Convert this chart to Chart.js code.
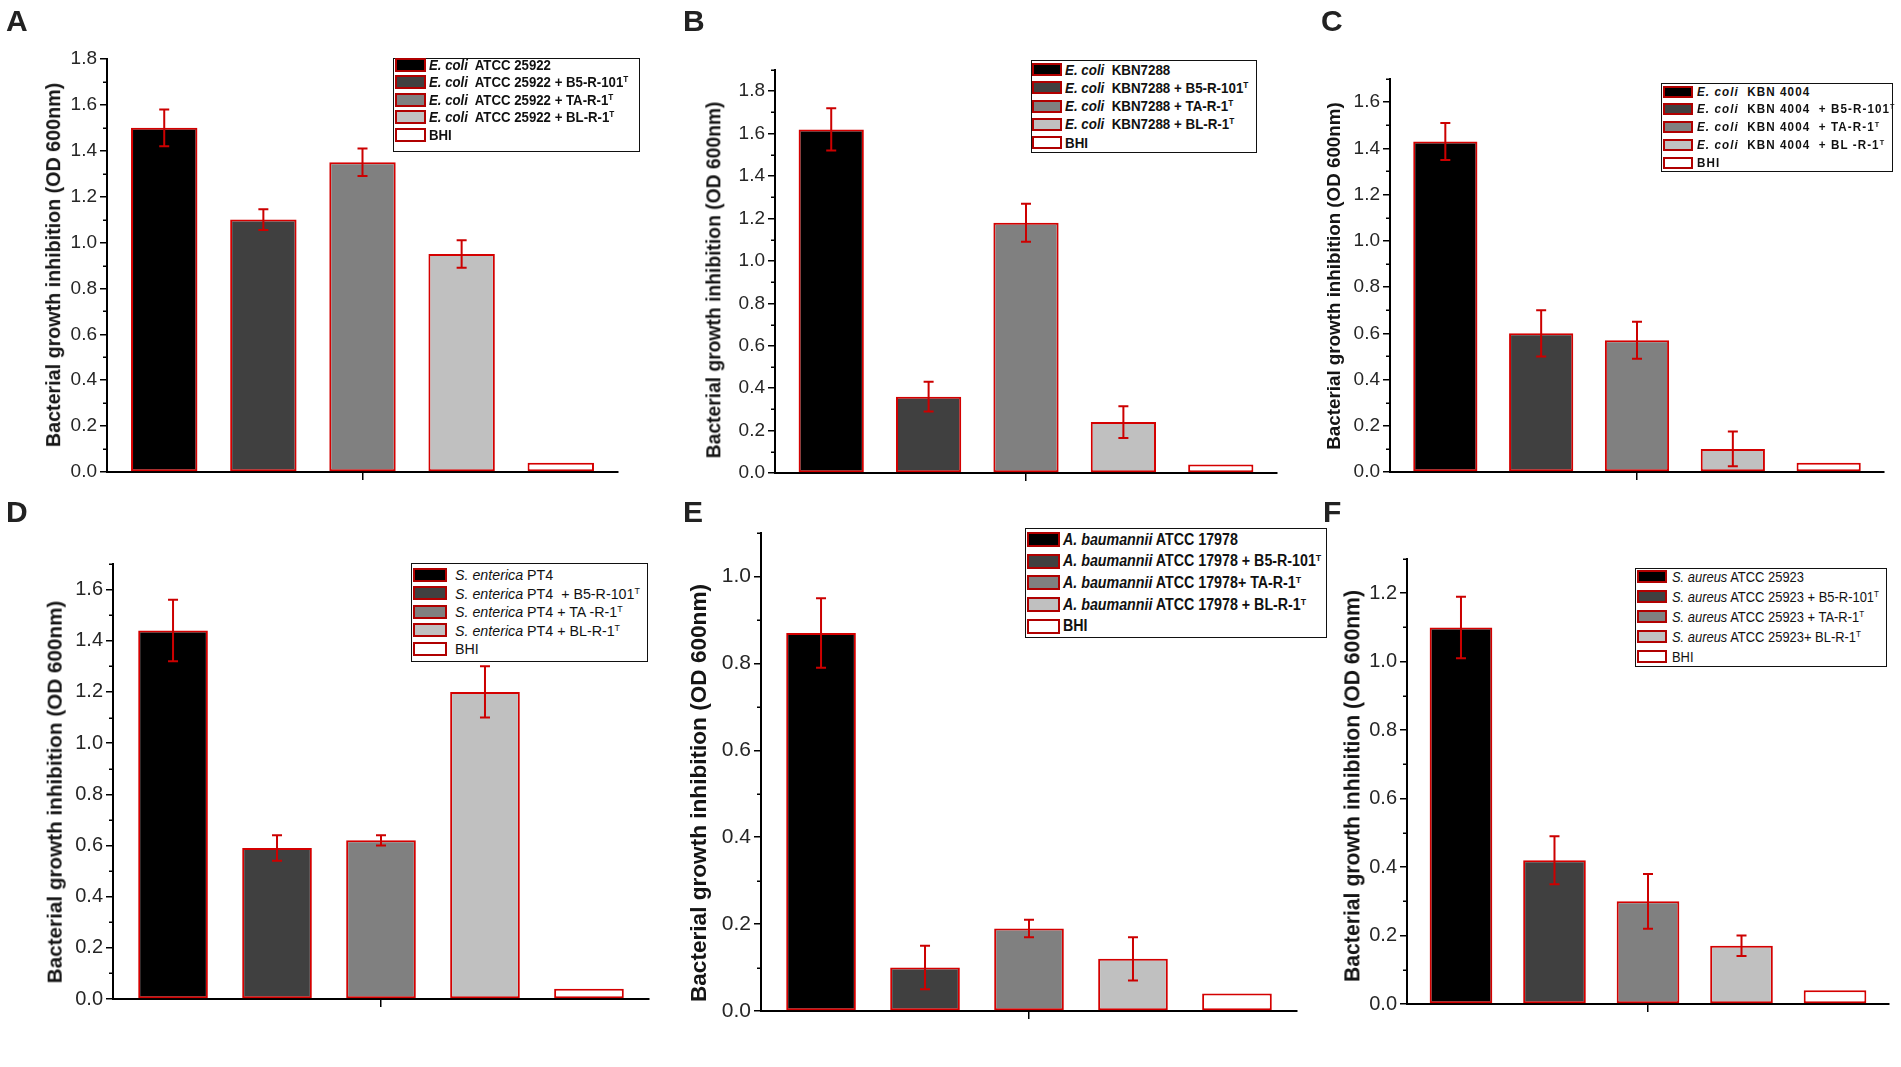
<!DOCTYPE html>
<html>
<head>
<meta charset="utf-8">
<title>Bacterial growth inhibition</title>
<script src="https://cdn.jsdelivr.net/npm/chart.js@4.4.1/dist/chart.umd.min.js"></script>
<style>
  html, body { margin: 0; padding: 0; background: #fff; }
  body { width: 1901px; height: 1067px; position: relative; overflow: hidden;
         font-family: 'Liberation Sans', Arial, sans-serif; }
  .panel { position: absolute; }
  .letter { position: absolute; font-size: 30px; font-weight: bold; line-height: 30px; color: #222; }
  .ytitle { position: absolute; white-space: nowrap; font-weight: bold; color: #151515;
            transform: translate(-50%, -50%) rotate(-90deg); line-height: 1; }
  .legend { position: absolute; border: 1.5px solid #111; box-sizing: border-box; background: #fff; }
  .legend .rows { position: absolute; left: 0; right: 0; }
  .legend .row { position: relative; display: flex; align-items: center; white-space: pre; color: #111; }
  .legend .sw { position: absolute; box-sizing: border-box; border: 2px solid #b00000; }
  .legend .txt { position: absolute; transform-origin: left center; }
  .legend sup { font-size: 0.62em; vertical-align: 0.55em; line-height: 0; }
</style>
</head>
<body>
<script>
Chart.defaults.font.family = "'Liberation Sans', Arial, sans-serif";

// ---- data ----
const barColors = ['#000000', '#404040', '#808080', '#c0c0c0', '#ffffff'];
const yTitle = 'Bacterial growth inhibition (OD 600nm)';

// _x_ = italic, ^T = superscript T
const labelsA = ['_E. coli_  ATCC 25922', '_E. coli_  ATCC 25922 + B5-R-101^T', '_E. coli_  ATCC 25922 + TA-R-1^T', '_E. coli_  ATCC 25922 + BL-R-1^T', 'BHI'];
const valuesA = [1.50, 1.10, 1.35, 0.95, 0.04];
const errorsA = [0.08, 0.045, 0.06, 0.06, 0];
const ticksA = [0, 0.2, 0.4, 0.6, 0.8, 1.0, 1.2, 1.4, 1.6, 1.8];
const yMaxA = 1.8;

const labelsB = ['_E. coli_  KBN7288', '_E. coli_  KBN7288 + B5-R-101^T', '_E. coli_  KBN7288 + TA-R-1^T', '_E. coli_  KBN7288 + BL-R-1^T', 'BHI'];
const valuesB = [1.62, 0.36, 1.18, 0.24, 0.04];
const errorsB = [0.10, 0.07, 0.09, 0.075, 0];
const ticksB = [0, 0.2, 0.4, 0.6, 0.8, 1.0, 1.2, 1.4, 1.6, 1.8];
const yMaxB = 1.9;

const labelsC = ['_E. coli_  KBN 4004', '_E. coli_  KBN 4004  + B5-R-101^T', '_E. coli_  KBN 4004  + TA-R-1^T', '_E. coli_  KBN 4004  + BL -R-1^T', 'BHI'];
const valuesC = [1.43, 0.60, 0.57, 0.10, 0.04];
const errorsC = [0.08, 0.10, 0.08, 0.075, 0];
const ticksC = [0, 0.2, 0.4, 0.6, 0.8, 1.0, 1.2, 1.4, 1.6];
const yMaxC = 1.7;

const labelsD = ['_S. enterica_ PT4', '_S. enterica_ PT4  + B5-R-101^T', '_S. enterica_ PT4 + TA -R-1^T', '_S. enterica_ PT4 + BL-R-1^T', 'BHI'];
const valuesD = [1.44, 0.59, 0.62, 1.20, 0.04];
const errorsD = [0.12, 0.05, 0.02, 0.10, 0];
const ticksD = [0, 0.2, 0.4, 0.6, 0.8, 1.0, 1.2, 1.4, 1.6];
const yMaxD = 1.7;

const labelsE = ['_A. baumannii_ ATCC 17978', '_A. baumannii_ ATCC 17978 + B5-R-101^T', '_A. baumannii_ ATCC 17978+ TA-R-1^T', '_A. baumannii_ ATCC 17978 + BL-R-1^T', 'BHI'];
const valuesE = [0.87, 0.10, 0.19, 0.12, 0.04];
const errorsE = [0.08, 0.05, 0.02, 0.05, 0];
const ticksE = [0, 0.2, 0.4, 0.6, 0.8, 1.0];
const yMaxE = 1.1;

const labelsF = ['_S. aureus_ ATCC 25923', '_S. aureus_ ATCC 25923 + B5-R-101^T', '_S. aureus_ ATCC 25923 + TA-R-1^T', '_S. aureus_ ATCC 25923+ BL-R-1^T', 'BHI'];
const valuesF = [1.10, 0.42, 0.30, 0.17, 0.04];
const errorsF = [0.09, 0.07, 0.08, 0.03, 0];
const ticksF = [0, 0.2, 0.4, 0.6, 0.8, 1.0, 1.2];
const yMaxF = 1.3;

// ---- layout (page pixels) ----
const layouts = {
  A: { box: [0, 0, 650, 490], area: [107, 59, 618, 472], letter: [6, 6], tickSize: 19,
       title: [54, 265, 19.7],
       legend: { left: 393, top: 58, width: 247, height: 94, first: 65, pitch: 17.6, swX: 2, swW: 31, swH: 14, textX: 36, font: 'bold 14.7px', ls: 0, sx: 0.9 } },
  B: { box: [650, 0, 650, 490], area: [775, 70, 1277, 473], letter: [683, 6], tickSize: 19,
       title: [714, 280, 19.3],
       legend: { left: 1031, top: 60, width: 226, height: 93, first: 70, pitch: 18.3, swX: 1, swW: 30, swH: 13, textX: 34, font: 'bold 14.5px', ls: 0, sx: 0.92 } },
  C: { box: [1300, 0, 601, 490], area: [1390, 79, 1884, 472], letter: [1321, 6], tickSize: 19,
       title: [1334, 276, 18.8],
       legend: { left: 1661, top: 83, width: 232, height: 89, first: 92, pitch: 17.8, swX: 2, swW: 30, swH: 12, textX: 36, font: 'bold 12px', ls: 1.1, sx: 0.97 } },
  D: { box: [0, 490, 650, 577], area: [113, 564, 649, 999], letter: [6, 497], tickSize: 20,
       title: [55, 792, 20.7],
       legend: { left: 411, top: 563, width: 237, height: 99, first: 575, pitch: 18.5, swX: 2, swW: 34, swH: 14, textX: 44, font: '15px', ls: 0, sx: 0.95 } },
  E: { box: [650, 490, 650, 577], area: [761, 533, 1297, 1011], letter: [683, 497], tickSize: 21,
       title: [699, 793, 22.6],
       legend: { left: 1025, top: 528, width: 302, height: 110, first: 540, pitch: 21.7, swX: 2, swW: 33, swH: 15, textX: 38, font: 'bold 16px', ls: 0, sx: 0.89 } },
  F: { box: [1300, 490, 601, 577], area: [1407, 559, 1889, 1004], letter: [1323, 497], tickSize: 20,
       title: [1352, 786, 21.2],
       legend: { left: 1635, top: 568, width: 252, height: 99, first: 577, pitch: 20, swX: 2, swW: 30, swH: 13, textX: 37, font: '14.7px', ls: 0, sx: 0.88 } }
};

const plain = s => s.replace(/_/g, '').replace('^T', 'ᵀ');
const markup = s => s.replace(/_(.+?)_/g, '<i>$1</i>').replace('^T', '<sup>T</sup>');

// red error bars with caps, placed on each bar through the y scale
const errorBars = {
  id: 'errorBars',
  afterDatasetsDraw(chart, args, opts) {
    const { ctx } = chart;
    const y = chart.scales.y;
    ctx.save();
    ctx.strokeStyle = opts.color;
    ctx.lineWidth = opts.width;
    chart.data.datasets.forEach((ds, i) => {
      const err = opts.errors[i];
      if (!err) return;
      const bar = chart.getDatasetMeta(i).data[0];
      const v = ds.data[0];
      const top = y.getPixelForValue(v + err);
      const bot = y.getPixelForValue(v - err);
      ctx.beginPath();
      ctx.moveTo(bar.x, top); ctx.lineTo(bar.x, bot);
      ctx.moveTo(bar.x - opts.cap, top); ctx.lineTo(bar.x + opts.cap, top);
      ctx.moveTo(bar.x - opts.cap, bot); ctx.lineTo(bar.x + opts.cap, bot);
      ctx.stroke();
    });
    ctx.restore();
  }
};

// short ticks halfway between the labelled ones
const minorTicks = {
  id: 'minorTicks',
  afterDraw(chart, args, opts) {
    const { ctx, chartArea } = chart;
    const y = chart.scales.y;
    const vals = y.ticks.map(t => t.value);
    const step = vals[1] - vals[0];
    ctx.save();
    ctx.strokeStyle = '#000';
    ctx.lineWidth = 1.5;
    ctx.beginPath();
    vals.forEach(v => {
      const m = v + step / 2;
      if (m > y.max + 1e-9) return;
      const py = Math.round(y.getPixelForValue(m)) + 0.25;
      ctx.moveTo(chartArea.left - opts.length, py);
      ctx.lineTo(chartArea.left, py);
    });
    ctx.stroke();
    ctx.restore();
  }
};

// legend as html so the species names can be italic
const htmlLegend = {
  id: 'htmlLegend',
  afterUpdate(chart, args, opts) {
    const L = opts.layout;
    const box = document.getElementById(opts.containerID);
    box.innerHTML = '';
    const rows = document.createElement('div');
    rows.className = 'rows';
    rows.style.top = (L.first - L.top - L.pitch / 2 - 1.5) + 'px';
    chart.data.datasets.forEach((ds, i) => {
      const row = document.createElement('div');
      row.className = 'row';
      row.style.height = L.pitch + 'px';
      const sw = document.createElement('span');
      sw.className = 'sw';
      sw.style.left = (L.swX - 1.5) + 'px';
      sw.style.top = ((L.pitch - L.swH) / 2) + 'px';
      sw.style.width = L.swW + 'px';
      sw.style.height = L.swH + 'px';
      sw.style.background = ds.backgroundColor;
      const txt = document.createElement('span');
      txt.className = 'txt';
      txt.style.left = (L.textX - 1.5) + 'px';
      txt.style.font = L.font + " 'Liberation Sans', Arial, sans-serif";
      txt.style.letterSpacing = L.ls + 'px';
      txt.style.transform = 'scaleX(' + L.sx + ')';
      txt.innerHTML = markup(opts.labels[i]);
      row.appendChild(sw);
      row.appendChild(txt);
      rows.appendChild(row);
    });
    box.appendChild(rows);
  }
};

function makePanel(key, labels, values, errors, ticks, yMax) {
  const L = layouts[key];
  const [bx, by, bw, bh] = L.box;
  const [al, at, ar, ab] = L.area;

  const wrap = document.createElement('div');
  wrap.className = 'panel';
  Object.assign(wrap.style, { left: bx + 'px', top: by + 'px', width: bw + 'px', height: bh + 'px' });
  const canvas = document.createElement('canvas');
  wrap.appendChild(canvas);
  document.body.appendChild(wrap);

  const letter = document.createElement('div');
  letter.className = 'letter';
  letter.textContent = key;
  letter.style.left = L.letter[0] + 'px';
  letter.style.top = L.letter[1] + 'px';
  document.body.appendChild(letter);

  const title = document.createElement('div');
  title.className = 'ytitle';
  title.textContent = yTitle;
  title.style.left = L.title[0] + 'px';
  title.style.top = L.title[1] + 'px';
  title.style.fontSize = L.title[2] + 'px';
  document.body.appendChild(title);

  const leg = document.createElement('div');
  leg.className = 'legend';
  leg.id = 'legend' + key;
  Object.assign(leg.style, { left: L.legend.left + 'px', top: L.legend.top + 'px',
    width: L.legend.width + 'px', height: L.legend.height + 'px' });
  document.body.appendChild(leg);

  new Chart(canvas, {
    type: 'bar',
    data: {
      labels: [''],
      datasets: labels.map((lab, i) => ({
        label: plain(lab),
        data: [values[i]],
        backgroundColor: barColors[i],
        borderColor: '#d40000',
        borderWidth: 2,
        borderSkipped: false,
        categoryPercentage: 0.97,
        barPercentage: 0.67
      }))
    },
    options: {
      responsive: true,
      maintainAspectRatio: false,
      animation: false,
      layout: { padding: { left: 0, top: at - by, right: bx + bw - ar, bottom: by + bh - ab - 10 } },
      plugins: {
        legend: { display: false },
        tooltip: { enabled: false },
        errorBars: { errors: errors, color: '#cc0000', width: 2, cap: 5 },
        minorTicks: { length: 4 },
        htmlLegend: { containerID: 'legend' + key, labels: labels, layout: L.legend }
      },
      scales: {
        x: {
          ticks: { display: false },
          grid: { display: true, drawOnChartArea: false, offset: false, tickLength: 8, color: '#000', lineWidth: 1.5 },
          border: { display: true, color: '#000', width: 2 },
          afterFit: s => { s.height = 10; }
        },
        y: {
          min: 0,
          max: yMax,
          afterBuildTicks: s => { s.ticks = ticks.map(v => ({ value: v })); },
          ticks: { padding: 3, color: '#262626', font: { size: L.tickSize }, callback: v => Number(v).toFixed(1) },
          grid: { drawOnChartArea: false, tickLength: 7, color: '#000', lineWidth: 1.5 },
          border: { display: true, color: '#000', width: 2 },
          afterFit: s => { s.width = al - bx; }
        }
      }
    },
    plugins: [errorBars, minorTicks, htmlLegend]
  });
}

makePanel('A', labelsA, valuesA, errorsA, ticksA, yMaxA);
makePanel('B', labelsB, valuesB, errorsB, ticksB, yMaxB);
makePanel('C', labelsC, valuesC, errorsC, ticksC, yMaxC);
makePanel('D', labelsD, valuesD, errorsD, ticksD, yMaxD);
makePanel('E', labelsE, valuesE, errorsE, ticksE, yMaxE);
makePanel('F', labelsF, valuesF, errorsF, ticksF, yMaxF);
</script>
</body>
</html>
